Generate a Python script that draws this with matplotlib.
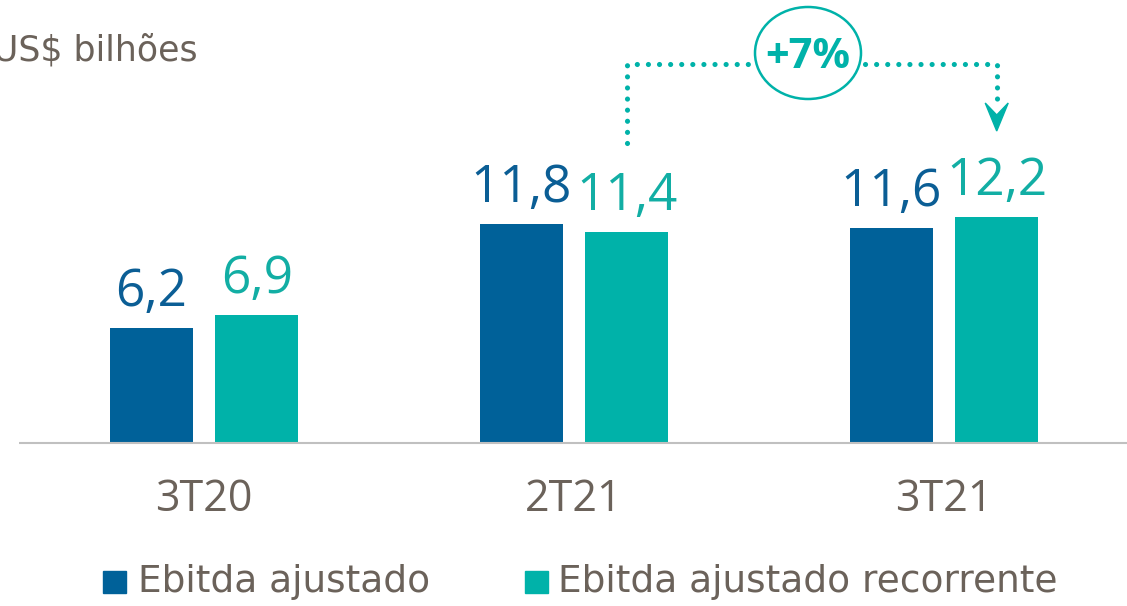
import matplotlib.pyplot as plt
from matplotlib.patches import Ellipse, Rectangle, Polygon
import numpy as np

# =====================
# Data
# =====================
periods = ["3T20", "2T21", "3T21"]
ebitda_ajustado = [6.2, 11.8, 11.6]
ebitda_recorrente = [6.9, 11.4, 12.2]
series_names = ["Ebitda ajustado", "Ebitda ajustado recorrente"]
unit_label = "US$ bilhões"
growth_label = "+7%"

# =====================
# Styles
# =====================
DARK = "#006199"
TEAL = "#00B2A9"
DARK_TXT = "#0B5E95"
TEAL_TXT = "#12AEA4"
GRAY = "#6B625A"
NUM_FONT = "Open Sans"
TXT_FONT = "DejaVu Sans"

W, H = 1127, 606
fig = plt.figure(figsize=(W / 100, H / 100), dpi=100)
ax = fig.add_axes([0, 0, 1, 1])

# pixel layout helpers (group spacing 370 px, 18.55 px per unit)
X0, XS = 204, 370
Y0, YS = 443, 18.55
def px(x):
    return (x - X0) / XS
def py(y):
    return (Y0 - y) / YS

ax.set_xlim(px(0), px(W))
ax.set_ylim(py(H), py(0))
ax.axis("off")

x = np.arange(len(periods))
off, bw = 0.1425, 0.224

ax.bar(x - off, ebitda_ajustado, width=bw, color=DARK, zorder=2)
ax.bar(x + off, ebitda_recorrente, width=bw, color=TEAL, zorder=2)
ax.plot([px(19), px(W)], [0, 0], color="#C0C0C0", lw=1.5, zorder=3,
        solid_capstyle="butt")

# value labels
for xi, v in zip(x - off, ebitda_ajustado):
    ax.annotate(f"{v:.1f}".replace(".", ","), (xi, v), xytext=(0, 15.8),
                textcoords="offset points", ha="center", va="baseline",
                fontsize=37, color=DARK_TXT, family=NUM_FONT)
for xi, v in zip(x + off, ebitda_recorrente):
    ax.annotate(f"{v:.1f}".replace(".", ","), (xi, v), xytext=(0, 15.8),
                textcoords="offset points", ha="center", va="baseline",
                fontsize=37, color=TEAL_TXT, family=NUM_FONT)

# category labels
for xi, lab in zip(x, periods):
    ax.text(xi, py(511), lab, ha="center", va="baseline", fontsize=31,
            color=GRAY, family=NUM_FONT)

# unit label (cut at the left edge, as in the source slide)
ax.text(px(198), py(60), unit_label, ha="right", va="baseline", fontsize=25,
        color=GRAY, family=TXT_FONT)

# =====================
# Growth bracket
# =====================
top_y = py(64)
xl = 1 + off
xr = 2 + off
e_cx, e_cy = px(808), py(53)
e_w, e_h = 106 / XS, 92 / YS
dots = dict(color=TEAL, lw=3.7, ls=(0, (0.01, 2.15)), dash_capstyle="round")
ax.plot([xl, xl, e_cx - e_w / 2 - 0.012], [py(143), top_y, top_y], **dots)
ax.plot([e_cx + e_w / 2 + 0.012, xr, xr], [top_y, top_y, py(104)], **dots)
ax.add_patch(Ellipse((e_cx, e_cy), e_w, e_h, fill=False, ec=TEAL, lw=1.8))
ax.text(e_cx, e_cy, growth_label, ha="center", va="center_baseline",
        fontsize=30, fontweight="bold", color=TEAL, family=NUM_FONT)
ax.add_patch(Polygon([(xr - 11.5 / XS, py(103)), (xr, py(115)),
                      (xr + 11.5 / XS, py(103)), (xr, py(131))],
                     closed=True, color=TEAL))

# =====================
# Legend
# =====================
for sq_x, txt_x, col, name in [(103, 138, DARK, series_names[0]),
                               (525, 558, TEAL, series_names[1])]:
    ax.add_patch(Rectangle((px(sq_x), py(593)), 23 / XS, 22 / YS, color=col))
    ax.text(px(txt_x), py(592), name, ha="left", va="baseline", fontsize=27,
            color=GRAY, family=TXT_FONT)

plt.savefig("out.png", dpi=100)
